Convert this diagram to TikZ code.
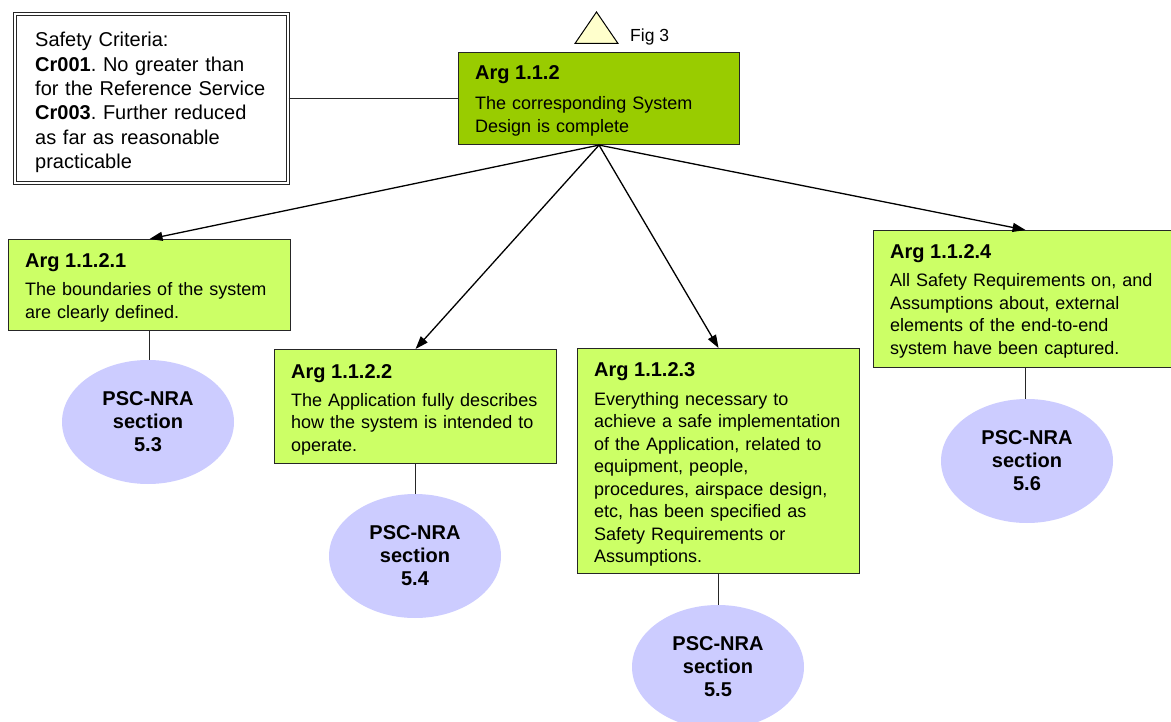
\documentclass[tikz,border=0pt]{standalone}
\usepackage{fontspec}
\setmainfont{Liberation Sans}
\usetikzlibrary{arrows.meta,calc,shapes.geometric}
\definecolor{goalgreen}{HTML}{CCFF66}
\definecolor{topgreen}{HTML}{99CC00}
\definecolor{refblue}{HTML}{CCCCFF}
\definecolor{modcream}{HTML}{FFFFCC}
\frenchspacing
\begin{document}
\begin{tikzpicture}[x=1pt,y=-1pt,
  argbox/.style={draw=black!85, line width=1.1pt, fill=goalgreen, anchor=north west, inner sep=0pt},
  hdr/.style={anchor=base west, inner sep=0pt, font=\fontsize{20}{24}\selectfont\bfseries},
  body/.style={anchor=base west, inner sep=0pt, align=left, text width=270pt, font=\fontsize{18}{22.5}\selectfont},
  ref/.style={ellipse, fill=refblue, minimum width=172pt, minimum height=124pt, inner sep=0pt, align=center, font=\fontsize{20}{23}\selectfont\bfseries},
  link/.style={line width=1pt, black!85},
  support/.style={line width=1.3pt, -{Triangle[length=13pt,width=9pt]}}
]
\clip (0,0) rectangle (1171,722);
\fill[white] (0,0) rectangle (1171,722);

% safety criteria (double-bordered context box)
\node[draw=black!85, line width=1.2pt, double, double distance=2.2pt, anchor=north west,
      minimum width=273pt, minimum height=169pt, inner sep=0pt] (crit) at (14.5,13.5) {};
\node[anchor=base west, inner sep=0pt, align=left, text width=250pt,
      font=\fontsize{20}{24.3}\selectfont] (crittext) at (35,47)
  {Safety Criteria:\\ \textbf{Cr001}. No greater than\\ for the Reference Service\\
   \textbf{Cr003}. Further reduced\\ as far as reasonable\\ practicable};

% top-level argument
\node[argbox, fill=topgreen, minimum width=281pt, minimum height=92pt] (top) at (458,52) {};
\node[hdr] (toph) at ($(top.north west)+(17,28)$) {Arg 1.1.2};
\node[body] (topb) at ($(top.north west)+(17,58)$) {The corresponding System\\ Design is complete};

% module reference
\draw[line width=1pt, fill=modcream] (596.5,12) -- (618,43.5) -- (575,43.5) -- cycle;
\node[anchor=base west, inner sep=0pt, font=\fontsize{17.5}{21}\selectfont] (fig) at (630,42) {Fig 3};

% sub-arguments
\node[argbox, minimum width=282pt, minimum height=91pt] (a1) at (8,239) {};
\node[hdr] at ($(a1.north west)+(17,29)$) {Arg 1.1.2.1};
\node[body] at ($(a1.north west)+(17,57)$) {The boundaries of the system\\ are clearly defined.};

\node[argbox, minimum width=282pt, minimum height=114pt] (a2) at (274,349) {};
\node[hdr] at ($(a2.north west)+(17,29)$) {Arg 1.1.2.2};
\node[body] at ($(a2.north west)+(17,57)$) {The Application fully describes\\ how the system is intended to\\ operate.};

\node[argbox, minimum width=282pt, minimum height=225pt] (a3) at (577,348) {};
\node[hdr] at ($(a3.north west)+(17,29)$) {Arg 1.1.2.3};
\node[body] at ($(a3.north west)+(17,57)$) {Everything necessary to\\ achieve a safe implementation\\ of the Application, related to\\ equipment, people,\\ procedures, airspace design,\\ etc, has been specified as\\ Safety Requirements or\\ Assumptions.};

\node[argbox, minimum width=304pt, minimum height=137pt] (a4) at (873,230) {};
\node[hdr] at ($(a4.north west)+(17,29)$) {Arg 1.1.2.4};
\node[body] at ($(a4.north west)+(17,57)$) {All Safety Requirements on, and\\ Assumptions about, external\\ elements of the end-to-end\\ system have been captured.};

% evidence references
\node[ref] (e1) at (148,422) {PSC-NRA\\ section\\ 5.3};
\node[ref] (e2) at (415,556) {PSC-NRA\\ section\\ 5.4};
\node[ref] (e3) at (718,667) {PSC-NRA\\ section\\ 5.5};
\node[ref] (e4) at (1027,461) {PSC-NRA\\ section\\ 5.6};

% connectors
\draw[link] (crit.east) -- (crit.east -| top.west);
\draw[support] (top.south) -- (a1.north);
\draw[support] (top.south) -- (a2.north);
\draw[support] (top.south) -- (a3.north);
\draw[support] (top.south) -- (a4.north);
\draw[link] (a1.south) -- (a1.south |- e1.north);
\draw[link] (a2.south) -- (a2.south |- e2.north);
\draw[link] (a3.south) -- (a3.south |- e3.north);
\draw[link] (a4.south) -- (a4.south |- e4.north);
\end{tikzpicture}
\end{document}
